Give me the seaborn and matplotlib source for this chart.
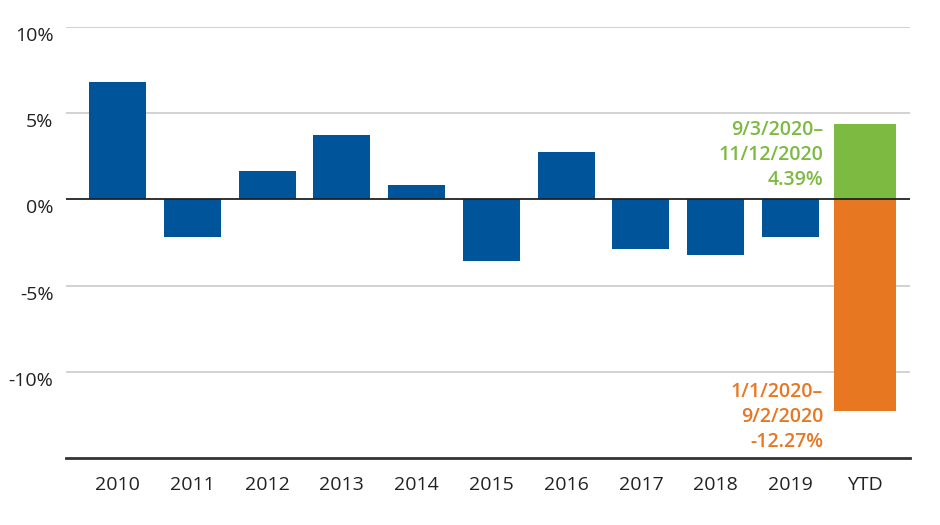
import numpy as np
import pandas as pd
import matplotlib
matplotlib.use("Agg")
import matplotlib.pyplot as plt
import matplotlib.transforms as mtransforms
import seaborn as sns

# ── data ────────────────────────────────────────────────────────────
years = ["2010", "2011", "2012", "2013", "2014", "2015", "2016", "2017", "2018", "2019"]
annual_returns = [6.8, -2.2, 1.63, 3.72, 0.81, -3.55, 2.73, -2.85, -3.2, -2.2]
ytd_label = "YTD"
ytd_recovery = 4.39      # 9/3/2020 - 11/12/2020
ytd_drawdown = -12.27    # 1/1/2020 - 9/2/2020
y_ticks = [-10, -5, 0, 5, 10]
y_ticklabels = ["-10%", "-5%", "0%", "5%", "10%"]

BLUE = "#00549A"
GREEN = "#7DBA42"
ORANGE = "#E87722"

df = pd.DataFrame({
    "year": years + [ytd_label, ytd_label],
    "ret": annual_returns + [ytd_recovery, ytd_drawdown],
    "seg": ["annual"] * len(years) + ["recovery", "drawdown"],
})

sns.set_style("white")
plt.rcParams["font.family"] = ["Open Sans", "DejaVu Sans"]

fig = plt.figure(figsize=(9.4, 5.25), dpi=100)
ax = fig.add_axes([66 / 940, 1 - 458 / 525, (910 - 66) / 940, (458 - 27) / 525])

sns.barplot(data=df, x="year", y="ret", hue="seg", dodge=False, width=0.76,
            palette={"annual": BLUE, "recovery": GREEN, "drawdown": ORANGE},
            legend=False, ax=ax, saturation=1)

# YTD bars are a touch wider
for p in ax.patches:
    cx = p.get_x() + p.get_width() / 2
    if cx > len(years) - 0.5:
        p.set_width(0.83)
        p.set_x(cx - 0.415)
    p.set_edgecolor("none")

ax.set_xlim(-0.69, len(years) + 0.6)
ax.set_ylim(-15, 10)

# grid
for t in y_ticks:
    if t != 0:
        ax.axhline(t, color="#C6C6C6", lw=1.1, zorder=0)
ax.axhline(0, color="#222222", lw=1.3, zorder=3)

for s in ["top", "right", "left"]:
    ax.spines[s].set_visible(False)
ax.spines["bottom"].set_color("#333333")
ax.spines["bottom"].set_linewidth(2)

ax.set_yticks(y_ticks)
ax.set_yticklabels(y_ticklabels)
ax.tick_params(axis="y", length=0, pad=9, labelsize=14, labelcolor="#222222")
ax.tick_params(axis="x", length=0, pad=13, labelsize=14, labelcolor="#222222")
offset = mtransforms.ScaledTranslation(0, -5 / 72, fig.dpi_scale_trans)
for lab in ax.get_yticklabels():
    lab.set_transform(lab.get_transform() + offset)
ax.set_xlabel("")
ax.set_ylabel("")

# annotations beside the YTD bars
x_text = len(years) - 0.415
ax.annotate("9/3/2020–\n11/12/2020\n4.39%", xy=(x_text, ytd_recovery + 0.22),
            xytext=(-8, 0), textcoords="offset points", ha="right", va="top",
            color=GREEN, fontsize=14, fontweight="semibold", linespacing=1.35)
ax.annotate("1/1/2020–\n9/2/2020\n-12.27%", xy=(x_text, ytd_drawdown + 1.7),
            xytext=(-8, 0), textcoords="offset points", ha="right", va="top",
            color=ORANGE, fontsize=14, fontweight="semibold", linespacing=1.35)

fig.savefig("out.png", dpi=100)
